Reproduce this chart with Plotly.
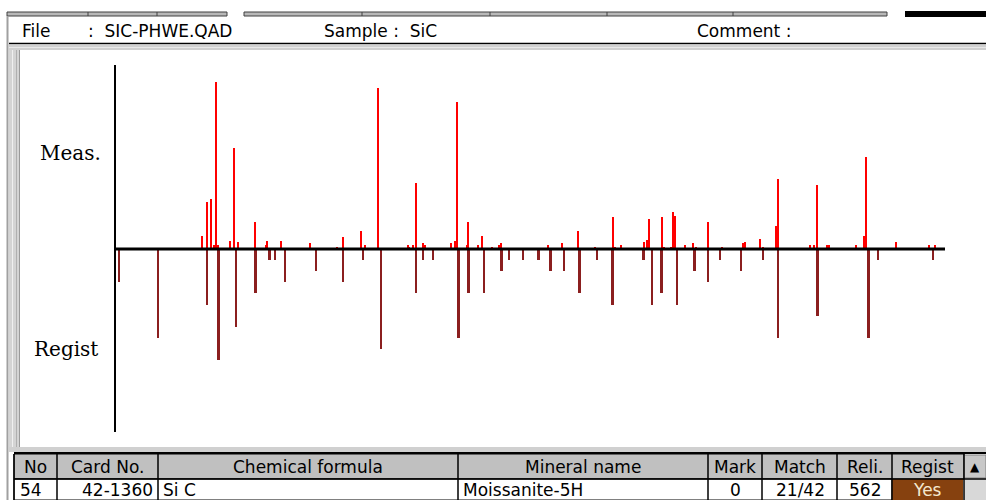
import plotly.graph_objects as go

# ---------------- data ----------------
# Measured pattern (2-theta in degrees, relative intensity)
meas_2theta = [33.15, 33.81, 34.41, 34.91, 35.26, 35.51, 37.36, 37.92, 38.52, 41.13,
               42.70, 42.94, 45.00, 49.41, 53.48, 54.38, 57.05, 57.65, 59.65, 64.08,
               64.28, 64.93, 65.29, 66.43, 66.73, 70.56, 71.16, 71.46, 72.97, 73.21,
               74.67, 75.23, 76.73, 77.88, 78.18, 85.26, 87.27, 89.68, 92.29, 94.95,
               95.30, 96.16, 99.62, 100.17, 100.47, 102.33, 102.64, 103.78, 104.08, 104.38,
               105.80, 107.00, 107.55, 109.35, 111.37, 114.53, 114.92, 117.18, 117.55, 119.59,
               119.89, 124.62, 125.23, 125.77, 127.27, 127.58, 131.64, 132.85, 133.15, 137.58,
               142.55, 143.45]
meas_int = [7.8, 28.0, 30.0, 2.4, 100.0, 2.4, 4.8, 60.5, 4.2, 16.2,
            2.4, 4.8, 4.8, 3.6, 1.2, 7.2, 10.8, 2.4, 96.4, 2.4,
            1.4, 2.4, 39.3, 3.4, 2.4, 3.6, 5.0, 87.8, 2.4, 16.0,
            2.4, 8.0, 1.4, 2.4, 3.4, 2.4, 3.4, 10.6, 1.4, 19.0,
            1.4, 2.4, 4.2, 5.2, 18.0, 19.0, 1.4, 1.4, 22.3, 20.0,
            2.4, 3.4, 1.4, 16.0, 1.4, 3.4, 4.2, 6.0, 1.4, 13.6,
            41.9, 2.4, 2.4, 38.1, 2.4, 2.4, 2.4, 8.0, 54.9, 4.2,
            2.4, 2.4]

# Registered card 42-1360 (Moissanite-5H)
reg_2theta = [20.60, 26.52, 33.81, 35.56, 38.22, 41.13, 43.24, 44.14, 45.60, 50.27,
              54.38, 57.35, 60.02, 65.29, 66.43, 67.89, 71.76, 73.21, 75.53, 78.18,
              79.38, 81.45, 83.75, 85.56, 87.58, 89.98, 92.59, 94.95, 99.62, 100.83,
              102.33, 104.64, 107.30, 109.35, 111.11, 114.32, 117.59, 119.89, 125.77, 133.45,
              134.91, 143.15]
reg_int = [30, 80, 50, 100, 70, 40, 10, 10, 30, 20,
           30, 10, 90, 40, 10, 10, 80, 40, 40, 20,
           10, 10, 10, 20, 20, 40, 10, 50, 10, 50,
           40, 50, 20, 30, 10, 20, 10, 80, 60, 80,
           10, 10]

header_info = [("File", 20), (":  SIC-PHWE.QAD", 86), ("Sample :  SiC", 322), ("Comment :", 695)]
table_cols = ["No", "Card No.", "Chemical formula", "Mineral name", "Mark", "Match", "Reli.", "Regist"]
table_row = ["54", "42-1360", "Si C", "Moissanite-5H", "0", "21/42", "562", "Yes"]

# ---------------- figure ----------------
W, H = 986, 500
def px(x):
    return x / W
def py(y):
    return 1 - y / H

fig = go.Figure()
fig.add_trace(go.Bar(x=meas_2theta, y=meas_int, width=0.32,
                     marker=dict(color="#ff0000", line=dict(width=0)), yaxis="y"))
fig.add_trace(go.Bar(x=reg_2theta, y=[-v for v in reg_int], width=0.36,
                     marker=dict(color="#8b1f1f", line=dict(width=0)), yaxis="y2"))

shapes = []
def rect(x0, y0, x1, y1, fill, line=None, lw=0, layer="above"):
    shapes.append(dict(type="rect", xref="paper", yref="paper",
                       x0=px(x0), x1=px(x1), y0=py(y1), y1=py(y0),
                       fillcolor=fill, line=dict(color=line or fill, width=lw), layer=layer))
def hline(x0, x1, y, color, w):
    shapes.append(dict(type="line", xref="paper", yref="paper", x0=px(x0), x1=px(x1),
                       y0=py(y), y1=py(y), line=dict(color=color, width=w)))
def vline(x, y0, y1, color, w):
    shapes.append(dict(type="line", xref="paper", yref="paper", x0=px(x), x1=px(x),
                       y0=py(y0), y1=py(y1), line=dict(color=color, width=w)))

# top tab strip
rect(7, 12, 227, 16, "#b8b8b8", "#404040", 1)
for xd in (88, 157):
    vline(xd, 12, 16, "#404040", 1)
rect(244, 12, 887, 16, "#b8b8b8", "#404040", 1)
for xd in (362, 490, 607, 733):
    vline(xd, 12, 16, "#404040", 1)
rect(905, 11, 986, 17, "#000000")

# outer left border
vline(7.5, 16, 500, "#a0a0a0", 2)

# header separator and band
hline(9, 986, 43.5, "#000000", 1.5)
rect(9, 45, 986, 50, "#d0d0d0")
hline(9, 986, 47.5, "#e8e8e8", 1)

# left frame of plot area
rect(9, 50, 20, 452, "#d4d4d4")
vline(12.5, 50, 452, "#f0f0f0", 1)
vline(16.5, 50, 452, "#b0b0b0", 1)
vline(19.5, 50, 452, "#9a9a9a", 1)

# bottom band of plot area
rect(9, 447, 986, 452, "#d0d0d0")
hline(14, 986, 453, "#000000", 2)

# table
rect(14, 454, 964, 479, "#c0c0c0", "#000000", 1)
rect(14, 479, 892, 500, "#ffffff", "#000000", 1)
rect(892, 479, 963, 500, "#86410f")
rect(964, 479, 986, 500, "#d8d8d8")
rect(964, 455, 986, 478, "#c8c8c8", "#808080", 1)
hline(14, 986, 479, "#000000", 1.5)
vline(14, 454, 500, "#000000", 1.5)
col_edges = [14, 57, 158, 458, 708, 762, 837, 892, 964]
for xe in col_edges[1:]:
    vline(xe, 454, 500, "#000000", 1.5)

# axes of the pattern
shapes.append(dict(type="line", xref="paper", yref="paper", x0=px(115), x1=px(115),
                   y0=py(432), y1=py(65), line=dict(color="#000000", width=2)))
shapes.append(dict(type="line", xref="x", yref="y", x0=20, x1=145, y0=0, y1=0,
                   line=dict(color="#000000", width=3)))

ann = []
for text, x in header_info:
    ann.append(dict(text=text, x=px(x), y=py(31), xref="paper", yref="paper",
                    xanchor="left", yanchor="middle", showarrow=False,
                    font=dict(family="DejaVu Sans", size=17, color="#000000")))
ann.append(dict(text="Meas.", x=px(70), y=py(153), xref="paper", yref="paper",
                xanchor="center", yanchor="middle", showarrow=False,
                font=dict(family="DejaVu Serif", size=20, color="#000000")))
ann.append(dict(text="Regist", x=px(66), y=py(349), xref="paper", yref="paper",
                xanchor="center", yanchor="middle", showarrow=False,
                font=dict(family="DejaVu Serif", size=20, color="#000000")))
for i, name in enumerate(table_cols):
    cx = (col_edges[i] + col_edges[i + 1]) / 2
    if name == "Regist":
        cx = 927
    ann.append(dict(text=name, x=px(cx), y=py(467), xref="paper", yref="paper",
                    xanchor="center", yanchor="middle", showarrow=False,
                    font=dict(family="DejaVu Sans", size=17, color="#000000")))
row_pos = [("left", 18), ("right", 155), ("left", 161), ("left", 461),
           ("center", 735), ("center", 800), ("center", 865), ("center", 927)]
for (anchor, x), val in zip(row_pos, table_row):
    ann.append(dict(text=val, x=px(x), y=py(490), xref="paper", yref="paper",
                    xanchor=anchor, yanchor="middle", showarrow=False,
                    font=dict(family="DejaVu Sans", size=17,
                              color="#f4e8d0" if val == "Yes" else "#000000")))
ann.append(dict(text="▲", x=px(975), y=py(467), xref="paper", yref="paper",
                xanchor="center", yanchor="middle", showarrow=False,
                font=dict(family="DejaVu Sans", size=12, color="#000000")))

fig.update_layout(
    width=W, height=H, margin=dict(l=0, r=0, t=0, b=0),
    paper_bgcolor="#ffffff", plot_bgcolor="rgba(0,0,0,0)",
    showlegend=False, barmode="overlay", bargap=0,
    xaxis=dict(domain=[px(115), px(945)], range=[20, 145], visible=False, fixedrange=True),
    yaxis=dict(domain=[py(432), py(65)], range=[-(432 - 249) / 1.67, (249 - 65) / 1.67],
               visible=False),
    yaxis2=dict(domain=[py(432), py(65)], range=[-(432 - 249) / 1.11, (249 - 65) / 1.11],
                overlaying="y", visible=False),
    shapes=shapes, annotations=ann,
)
fig.write_html("out.html", config={"displayModeBar": False},
               post_script="document.body.style.margin='0px';document.body.style.overflow='hidden';")
